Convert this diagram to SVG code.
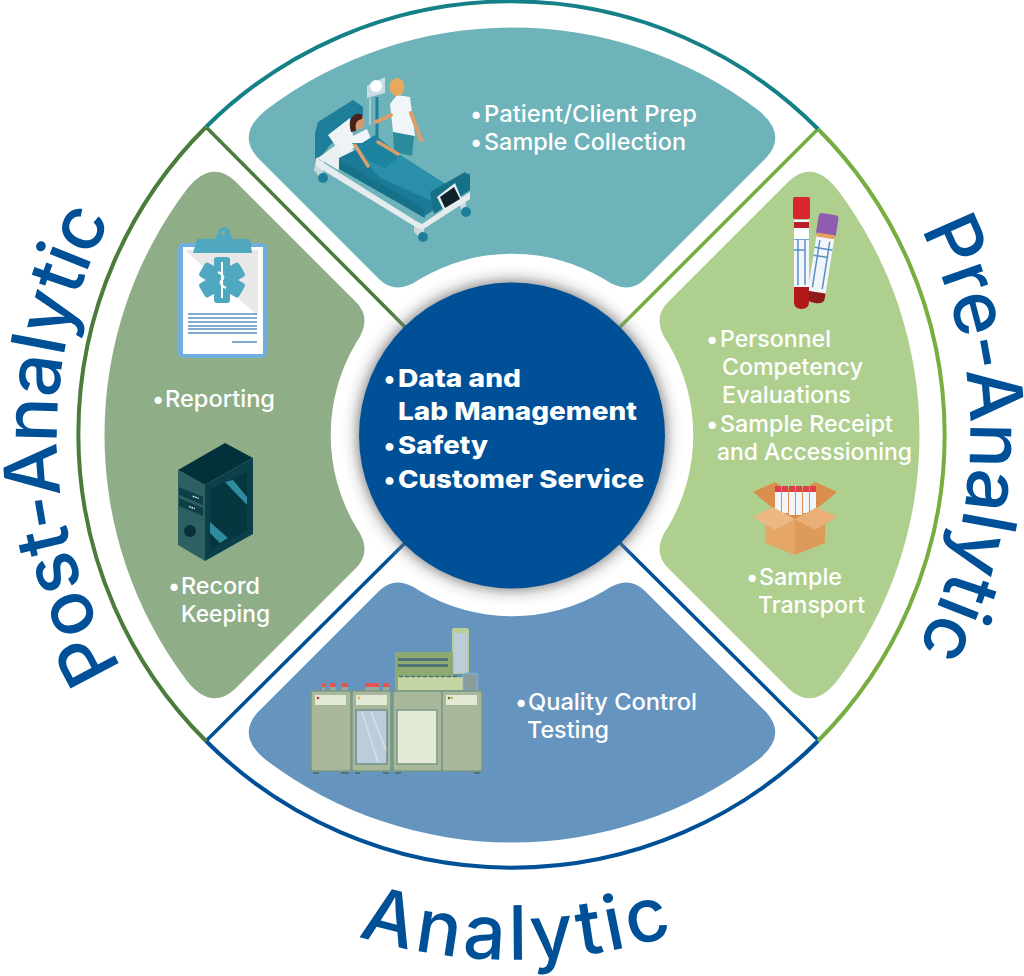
<svg xmlns="http://www.w3.org/2000/svg" xmlns:xlink="http://www.w3.org/1999/xlink" width="1024" height="976" viewBox="0 0 1024 976">
<style>
.t{font-family:"Inter","Noto Sans",sans-serif;font-size:23px;font-weight:500;fill:#fff}
.c{font-family:"Inter","Noto Sans",sans-serif;font-size:25px;font-weight:800;fill:#fff}
.big{font-family:"Inter","Noto Sans",sans-serif;font-size:75px;font-weight:500;fill:#005098}
.ring{fill:none;stroke-width:4}
.div{fill:none;stroke-width:3.5}
</style>
<defs>
<path id="petal" d="M258 158Q236 134 266 110A408 408 0 0 1 758 110Q788 134 766 158L645 279Q628 296 604 279A180 180 0 0 0 420 279Q396 296 379 279Z"/>
<radialGradient id="halo" cx="512" cy="435.500" r="174" gradientUnits="userSpaceOnUse">
<stop offset="0.87" stop-color="#666" stop-opacity=".6"/>
<stop offset="0.93" stop-color="#999" stop-opacity=".18"/>
<stop offset="1" stop-color="#fff" stop-opacity="0"/>
</radialGradient>
<path id="arcPre" d="M920.600 229A457 457 0 0 1 913 657"/>
<path id="arcPost" d="M122 668A455 455 0 0 1 118 206"/>
<path id="arcAna" d="M358 936A525 525 0 0 0 670 936"/>
</defs>

<rect width="1024" height="976" fill="#fff"/>

<g id="connectors">
<path class="div" stroke="#4A7C3C" d="M207 128L405 327"/>
<path class="div" stroke="#76AE3F" d="M818 129L620 327"/>
<path class="div" stroke="#005098" d="M207 740L405 543"/>
<path class="div" stroke="#005098" d="M818 740L620 543"/>
</g>

<g id="node-rings">
<path class="ring" stroke="#148087" d="M206 127A433 433 0 0 1 818 129"/>
<path class="ring" stroke="#76AE3F" d="M818 129A433 433 0 0 1 818 741"/>
<path class="ring" stroke="#005098" d="M818 741A433 433 0 0 1 206 741"/>
<path class="ring" stroke="#4A7C3C" d="M206 741A433 433 0 0 1 206 127"/>
</g>

<g id="node-collection">
<use href="#petal" fill="#6EB3B9"/>
<g id="bed">
<path d="M315 165V133L318 122L353 100L363 107V118L330 145Z" fill="#1F7F9B"/>
<path d="M316 158L324 156V170L320 178L314 170Z" fill="#C9D7DC"/><circle cx="323" cy="178" r="5" fill="#1F7F9B"/>
<path d="M414 222L424 226V236L422 240L414 232Z" fill="#C9D7DC"/><circle cx="423" cy="237" r="5" fill="#1F7F9B"/>
<path d="M458 198L466 196V210L462 213Z" fill="#C9D7DC"/><circle cx="466" cy="212" r="5" fill="#1F7F9B"/>
<path d="M316 158L416 221L422 224L470 192V199L422 230L414 226L316 166Z" fill="#E6ECEE"/>
<path d="M318 158L340 142L362 155L338 170Z" fill="#E9EEF1"/>
<path d="M328 135L350 118L355 147L342 155Z" fill="#EEF3F5"/>
<path d="M339 158L355 150L400 155L450 187L470 173V187L423 217L339 167Z" fill="#1B7A97"/>
<path d="M339 160L423 208L425 218L339 169Z" fill="#177189"/>
<path d="M355 150L400 155L450 187L430 200L380 178Z" fill="#2A8FA8"/>
<path d="M430 192L465 172L470 176V190L434 214Z" fill="#177189"/>
<path d="M437 197L455 183L462 200L444 211Z" fill="#EAF0F2"/><path d="M440 197L454 187L460 199L445 208Z" fill="#0F2229"/>
<path d="M377 97V142" stroke="#1F7F9B" stroke-width="3"/>
<path d="M367 86L385 77V93L367 98Z" fill="#C9DDE4"/><circle cx="376" cy="86" r="6" fill="#fff"/>
<path d="M370 98V125" stroke="#DDE9EC" stroke-width="1"/>
<path d="M393 131L414 136L412 156L394 152Z" fill="#2C8C9C"/>
<path d="M390 104L397 95L410 97L415 136L393 132Z" fill="#F0F5F7"/>
<path d="M391 115L376 122M411 113L421 140" stroke="#D99E6C" stroke-width="4" fill="none" stroke-linecap="round"/>
<ellipse cx="397" cy="87" rx="7.500" ry="9" fill="#E9A95D"/>
<path d="M351 137L367 129L372 141L355 148Z" fill="#F0F5F7"/>
<ellipse cx="358" cy="122" rx="6.500" ry="7.500" fill="#D89A6C"/>
<path d="M351 132Q347 118 356 114Q364 113 362 119Q354 120 356 131Z" fill="#47221A"/>
<path d="M352 143L362 143L375 135L400 155L395 160L385 168L362 158Z" fill="#1C83A0"/>
<path d="M355 145L368 166M378 142L398 154" stroke="#D99E6C" stroke-width="3.500" fill="none" stroke-linecap="round"/>
</g>
<text class="t" y="122"><tspan x="470">•</tspan><tspan x="484" textLength="213" lengthAdjust="spacingAndGlyphs">Patient/Client Prep</tspan></text>
<text class="t" y="150"><tspan x="470">•</tspan><tspan x="484" textLength="202" lengthAdjust="spacingAndGlyphs">Sample Collection</tspan></text>
</g>

<g id="node-post">
<use href="#petal" fill="#8FAE88" transform="rotate(-90 512 435)"/>
<g id="clipboard">
<rect x="178" y="243" width="89" height="115" rx="5" fill="#6FAEDD"/>
<rect x="183" y="247" width="80" height="107" fill="#fff"/>
<path d="M185 250H258V316Z" fill="#E8E8E8"/>
<path d="M193 253L197 239H215L218 233A6 6 0 0 1 230 233L233 239H250L252 253Z" fill="#4FA8BF"/>
<circle cx="223" cy="233" r="2" fill="#8FAE88"/>
<g fill="#4FA8BF" transform="translate(222 280)"><rect x="-8" y="-23" width="16" height="46" rx="3"/><rect x="-8" y="-23" width="16" height="46" rx="3" transform="rotate(60)"/><rect x="-8" y="-23" width="16" height="46" rx="3" transform="rotate(120)"/></g>
<path d="M222 262V298M218 272Q226 276 222 280Q218 284 226 288" stroke="#fff" stroke-width="2" fill="none"/>
<path d="M188 314H257M188 318H257M188 322H257M188 326H257M188 329H257M188 333H257M232 342H257" stroke="#5A90C4" stroke-width="1.500"/>
</g>
<text class="t" y="407"><tspan x="152">•</tspan><tspan x="165" textLength="110" lengthAdjust="spacingAndGlyphs">Reporting</tspan></text>
<g id="server">
<path d="M178 470L225 443L253 458L205 485Z" fill="#02313C"/>
<path d="M178 470L205 485V561L178 545Z" fill="#2E6061"/>
<path d="M205 485L253 458V534L205 561Z" fill="#0B3F49"/>
<path d="M210 490L247 472V530L210 550Z" fill="#063640"/>
<path d="M225 482L233 480L247 497V505ZM210 522L228 538L220 543L210 533Z" fill="#2D8D9E"/>
<path d="M179 487L203 497V505L179 495ZM179 498L203 508V516L179 506Z" fill="#0E3F48"/>
<path d="M191 497h6M191 508h6" stroke="#fff" stroke-width="1.500" stroke-dasharray="1.500 1" transform="rotate(20 194 502)"/>
<circle cx="190" cy="531" r="6" fill="#0B3038"/>
</g>
<text class="t" y="594"><tspan x="168">•</tspan><tspan x="181" textLength="79" lengthAdjust="spacingAndGlyphs">Record</tspan></text>
<text class="t" x="181" y="622" textLength="89" lengthAdjust="spacingAndGlyphs">Keeping</text>
</g>

<g id="node-pre">
<use href="#petal" fill="#AFCF8F" transform="rotate(90 512 435)"/>
<g id="tubes">
<g transform="translate(827 227) rotate(9)">
<rect x="-9" y="10" width="18" height="58" fill="#F2F6FA"/>
<path d="M-9 22H9M-9 30H6M-5 14V62M5 14V62" stroke="#5A90C4" stroke-width="1.500"/>
<path d="M-9 66H9V71Q9 77 0 77Q-9 77 -9 71Z" fill="#8E1A1A"/>
<rect x="-10" y="-13" width="20" height="22" rx="3" fill="#8F5CB0"/>
<rect x="-9" y="7" width="18" height="4" fill="#E3A25F"/>
</g>
<rect x="794" y="220" width="15" height="70" fill="#F2F6FA"/>
<path d="M794 239H809M794 250H805M798 236V285M805 236V285" stroke="#5A90C4" stroke-width="1.500"/>
<rect x="794" y="230" width="15" height="9" fill="#fff"/>
<path d="M794 287H809V302Q809 309 801.500 309Q794 309 794 302Z" fill="#B31818"/>
<rect x="793" y="197" width="17" height="22" rx="2" fill="#D9252E"/>
<rect x="794" y="222" width="15" height="6" fill="#B92028"/>
</g>
<text class="t" y="347"><tspan x="706">•</tspan><tspan x="720" textLength="111" lengthAdjust="spacingAndGlyphs">Personnel</tspan></text>
<text class="t" x="722" y="375" textLength="141" lengthAdjust="spacingAndGlyphs">Competency</text>
<text class="t" x="722" y="403" textLength="129" lengthAdjust="spacingAndGlyphs">Evaluations</text>
<text class="t" y="432"><tspan x="706">•</tspan><tspan x="720" textLength="173" lengthAdjust="spacingAndGlyphs">Sample Receipt</tspan></text>
<text class="t" x="717" y="460" textLength="195" lengthAdjust="spacingAndGlyphs">and Accessioning</text>
<g id="box">
<path d="M753 492L775 482L795 496L775 510Z" fill="#D98E4E"/>
<path d="M837 492L815 482L795 496L815 510Z" fill="#D98E4E"/>
<path d="M775 488H815V520H775Z" fill="#D98E4E"/>
<g fill="#F2F6FA"><rect x="775" y="491" width="6" height="22"/><rect x="782" y="491" width="6" height="22"/><rect x="789" y="491" width="6" height="24"/><rect x="796" y="491" width="6" height="24"/><rect x="803" y="491" width="6" height="22"/><rect x="810" y="491" width="6" height="20"/></g>
<g fill="#DF3F4A"><rect x="775" y="486" width="6" height="6"/><rect x="782" y="486" width="6" height="6"/><rect x="789" y="486" width="6" height="6"/><rect x="796" y="486" width="6" height="6"/><rect x="803" y="486" width="6" height="6"/><rect x="810" y="486" width="6" height="6"/></g>
<path d="M765 520L795 519V555L765 543Z" fill="#E6A666"/>
<path d="M825 520L795 519V555L825 543Z" fill="#DE9A5B"/>
<path d="M753 517L773 507L795 519L775 530Z" fill="#EDB883"/>
<path d="M837 517L817 507L795 519L815 530Z" fill="#E9AF77"/>
</g>
<text class="t" y="585"><tspan x="746">•</tspan><tspan x="759" textLength="83" lengthAdjust="spacingAndGlyphs">Sample</tspan></text>
<text class="t" x="758" y="613" textLength="107" lengthAdjust="spacingAndGlyphs">Transport</text>
</g>

<g id="node-analytic">
<use href="#petal" fill="#6595BF" transform="rotate(180 512 435)"/>
<g id="analyzer">
<rect x="452" y="628" width="17" height="46" rx="2" fill="#B5CF95"/>
<rect x="454" y="633" width="13" height="40" fill="#BCCCD8"/>
<rect x="395" y="652" width="58" height="39" rx="2" fill="#8EAA72"/>
<rect x="398" y="658" width="50" height="3" fill="#4F7378"/><rect x="398" y="664" width="50" height="3" fill="#4F7378"/>
<rect x="398" y="677" width="65" height="13" fill="#C5D6A5"/>
<path d="M399 676.500H460" stroke="#4F7378" stroke-width="1.500" stroke-dasharray="4 2"/>
<rect x="463.500" y="673.500" width="14" height="17" rx="2" fill="#8A9C9A" stroke="#7DA9D2" stroke-width="1.500"/>
<g fill="#9AA99D"><rect x="322" y="687" width="3" height="4"/><rect x="330" y="687" width="6" height="4"/><rect x="342" y="687" width="6" height="4"/><rect x="365" y="687" width="14" height="4"/><rect x="383" y="687" width="6" height="4"/></g>
<g fill="#E25555"><rect x="322" y="683" width="3" height="4"/><rect x="330" y="683" width="6" height="4"/><rect x="342" y="683" width="6" height="4"/><rect x="365" y="683" width="14" height="4"/><rect x="383" y="683" width="6" height="4"/></g>
<g fill="#A9B89B" stroke="#7A9886" stroke-width="1.500">
<rect x="311" y="691" width="40" height="80" rx="2"/><rect x="352" y="691" width="39" height="80" rx="2"/><rect x="393" y="691" width="49" height="80" rx="2"/><rect x="442" y="691" width="40" height="80" rx="2"/></g>
<g fill="#E2EAD5"><rect x="315" y="695" width="31" height="10"/><rect x="356" y="695" width="31" height="10"/><rect x="446" y="695" width="31" height="10"/></g>
<rect x="356" y="710" width="31" height="54" fill="#BCCCD8" stroke="#6F8F88" stroke-width="1.500"/>
<path d="M362 712L378 762M371 712L386 750" stroke="#D5E2EA" stroke-width="1.500"/>
<rect x="397" y="710" width="40" height="54" fill="#E2EAD5" stroke="#7A9886" stroke-width="1.500"/>
<circle cx="318" cy="698" r="1.300" fill="#C33"/><circle cx="359" cy="698" r="1.300" fill="#E9A95D"/><circle cx="449" cy="698" r="1.300" fill="#4A7C3C"/><circle cx="452" cy="698" r="1.300" fill="#E9A95D"/>
<path d="M313 773H319M341 773H349M355 773H360M383 773H389M395 773H401M474 773H480" stroke="#4F7378" stroke-width="2"/>
</g>
<text class="t" y="710"><tspan x="515">•</tspan><tspan x="528" textLength="169" lengthAdjust="spacingAndGlyphs">Quality Control</tspan></text>
<text class="t" x="527" y="738" textLength="82" lengthAdjust="spacingAndGlyphs">Testing</text>
</g>

<g id="node-center">
<circle cx="512" cy="435.500" r="174" fill="url(#halo)"/>
<circle cx="512" cy="435.500" r="153" fill="#005098"/>
<text class="c" y="387"><tspan x="384">•</tspan><tspan x="398" textLength="123" lengthAdjust="spacingAndGlyphs">Data and</tspan></text>
<text class="c" x="398" y="420" textLength="239" lengthAdjust="spacingAndGlyphs">Lab Management</text>
<text class="c" y="454"><tspan x="384">•</tspan><tspan x="398" textLength="90" lengthAdjust="spacingAndGlyphs">Safety</tspan></text>
<text class="c" y="488"><tspan x="384">•</tspan><tspan x="398" textLength="246" lengthAdjust="spacingAndGlyphs">Customer Service</tspan></text>
</g>

<g id="labels">
<text class="big"><textPath href="#arcPre" textLength="436">Pre-Analytic</textPath></text>
<text class="big"><textPath href="#arcPost" textLength="470">Post-Analytic</textPath></text>
<text class="big"><textPath href="#arcAna" textLength="320">Analytic</textPath></text>
</g>
</svg>
